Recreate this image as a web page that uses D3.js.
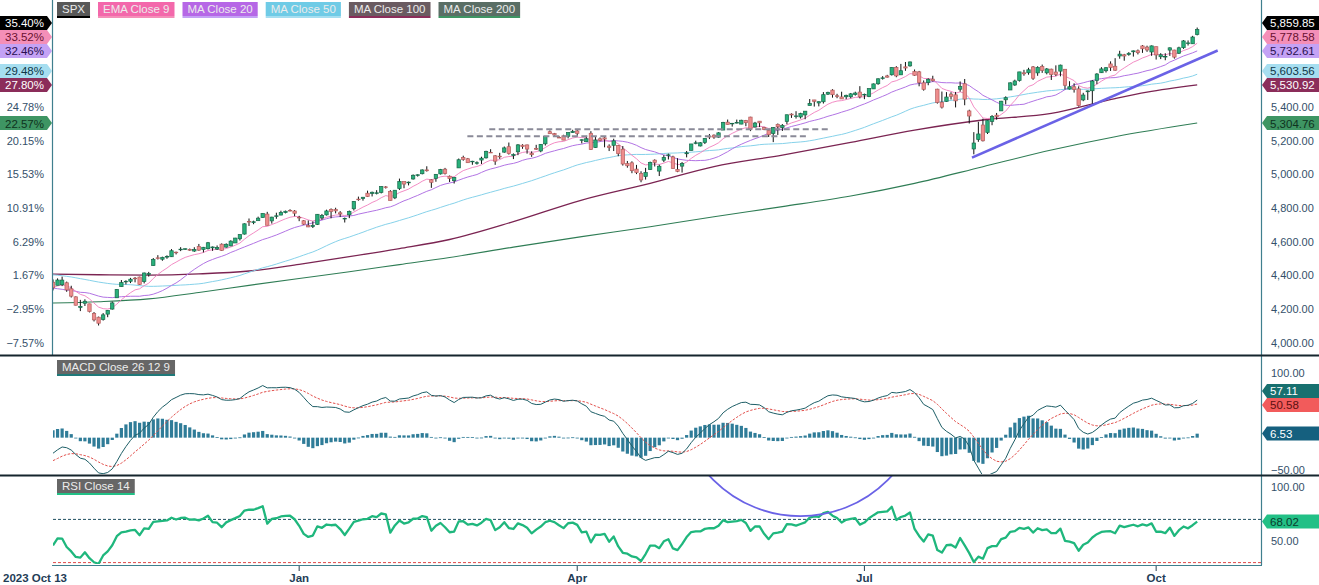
<!DOCTYPE html>
<html><head><meta charset="utf-8">
<script src="https://cdn.jsdelivr.net/npm/d3@7"></script>
<style>
html,body{margin:0;padding:0;background:#fff;overflow:hidden;}
svg{display:block;font-family:"Liberation Sans",Arial,sans-serif;}
</style></head><body>
<svg id="c" width="1319" height="585"></svg>
<script>
// ---------------- DATA ----------------
// closes before the first visible bar (indicator warm-up only, not drawn)
const warmupCloses = [4534.87,4536.34,4554.64,4567.46,4566.75,4537.41,4582.23,4588.96,4576.73,4513.39,4501.89,4478.03,4518.44,4499.38,4467.71,4468.83,4464.05,4489.72,4437.86,4404.33,4370.36,4369.71,4399.77,4387.55,4436.01,4376.31,4405.71,4433.31,4497.63,4514.87,4507.66,4515.77,4496.83,4465.48,4451.14,4457.49,4487.46,4461.90,4467.44,4505.10,4450.32,4453.53,4443.95,4402.20,4330.00,4320.06,4337.44,4273.53,4274.51,4299.70,4288.05,4288.39,4229.45,4263.75,4258.19,4308.50,4335.66,4358.24,4376.95,4349.61];

// date, open, high, low, close
const ohlc = [
["2023-10-13",4360.49,4377.10,4311.97,4327.78],["2023-10-16",4342.37,4383.33,4342.37,4373.63],["2023-10-17",4345.23,4393.57,4337.54,4373.20],["2023-10-18",4357.35,4364.20,4303.84,4314.60],["2023-10-19",4321.36,4339.54,4269.69,4278.00],["2023-10-20",4273.85,4276.56,4223.03,4224.16],["2023-10-23",4210.40,4255.84,4189.22,4217.04],["2023-10-24",4235.79,4259.38,4219.43,4247.68],["2023-10-25",4232.42,4232.42,4181.42,4186.77],["2023-10-26",4175.99,4183.60,4127.90,4137.23],["2023-10-27",4152.93,4156.70,4103.78,4117.37],["2023-10-30",4139.39,4177.47,4132.94,4166.82],["2023-10-31",4171.33,4195.55,4153.12,4193.80],
["2023-11-01",4201.27,4245.64,4197.74,4237.86],["2023-11-02",4268.26,4319.72,4268.26,4317.78],["2023-11-03",4334.23,4373.62,4334.23,4358.34],["2023-11-06",4364.27,4372.21,4347.53,4365.98],["2023-11-07",4366.21,4386.26,4355.41,4378.38],["2023-11-08",4384.37,4391.20,4359.76,4382.78],["2023-11-09",4391.41,4393.40,4343.94,4347.35],["2023-11-10",4364.15,4418.03,4353.34,4415.24],["2023-11-13",4406.66,4421.76,4393.82,4411.55],["2023-11-14",4458.97,4504.12,4458.97,4495.70],["2023-11-15",4505.30,4521.17,4495.31,4502.88],["2023-11-16",4497.08,4511.99,4487.83,4508.24],["2023-11-17",4509.55,4520.12,4499.66,4514.02],["2023-11-20",4511.70,4557.11,4510.36,4547.38],["2023-11-21",4538.77,4542.14,4525.51,4538.19],["2023-11-22",4553.04,4568.43,4545.05,4556.62],["2023-11-24",4555.84,4560.31,4552.80,4559.34],["2023-11-27",4554.86,4560.52,4546.32,4550.43],["2023-11-28",4545.55,4568.14,4540.51,4554.89],["2023-11-29",4571.84,4587.64,4547.15,4550.58],["2023-11-30",4554.87,4569.89,4537.24,4567.80],
["2023-12-01",4559.43,4599.39,4554.71,4594.63],["2023-12-04",4564.37,4572.37,4546.72,4569.78],["2023-12-05",4557.25,4578.56,4551.68,4567.18],["2023-12-06",4586.23,4590.74,4546.50,4549.34],["2023-12-07",4568.84,4590.92,4565.22,4585.59],["2023-12-08",4576.20,4609.23,4574.06,4604.37],["2023-12-11",4593.39,4623.71,4593.39,4622.44],["2023-12-12",4618.30,4643.93,4608.09,4643.70],["2023-12-13",4646.20,4709.69,4643.23,4707.09],["2023-12-14",4721.04,4738.57,4694.34,4719.55],["2023-12-15",4714.23,4725.53,4704.69,4719.19],["2023-12-18",4725.58,4749.52,4725.58,4740.56],["2023-12-19",4743.72,4768.69,4743.72,4768.37],["2023-12-20",4764.73,4778.01,4697.82,4698.35],["2023-12-21",4724.29,4748.71,4708.35,4746.75],["2023-12-22",4753.92,4772.94,4736.77,4754.63],["2023-12-26",4758.86,4784.72,4758.45,4774.75],["2023-12-27",4773.45,4785.39,4768.90,4781.58],["2023-12-28",4786.44,4793.30,4780.98,4783.35],["2023-12-29",4782.88,4788.43,4751.99,4769.83],
["2024-01-02",4745.20,4754.33,4722.67,4742.83],["2024-01-03",4725.07,4729.29,4699.71,4704.81],["2024-01-04",4697.42,4726.78,4687.53,4688.68],["2024-01-05",4690.57,4721.49,4682.11,4697.24],["2024-01-08",4703.70,4764.54,4699.82,4763.54],["2024-01-09",4741.93,4765.47,4730.35,4756.50],["2024-01-10",4759.94,4790.80,4756.20,4783.45],["2024-01-11",4792.13,4798.50,4739.58,4780.24],["2024-01-12",4791.18,4802.40,4768.98,4783.83],["2024-01-16",4772.35,4782.34,4747.12,4765.98],["2024-01-17",4739.13,4744.23,4714.82,4739.21],["2024-01-18",4760.10,4785.79,4740.57,4780.94],["2024-01-19",4796.28,4842.07,4785.87,4839.81],["2024-01-22",4853.42,4868.41,4844.05,4850.43],["2024-01-23",4856.80,4866.48,4844.37,4864.60],["2024-01-24",4888.56,4903.68,4865.94,4868.55],["2024-01-25",4886.66,4898.15,4869.34,4894.16],["2024-01-26",4888.91,4906.69,4881.47,4890.97],["2024-01-29",4892.95,4929.31,4887.40,4927.93],["2024-01-30",4925.89,4931.09,4916.27,4924.97],["2024-01-31",4899.19,4906.75,4845.15,4845.65],
["2024-02-01",4861.11,4906.97,4853.52,4906.19],["2024-02-02",4916.06,4975.29,4907.99,4958.61],["2024-02-05",4957.19,4957.19,4918.09,4942.81],["2024-02-06",4950.16,4957.77,4934.88,4954.23],["2024-02-07",4973.05,4999.89,4969.05,4995.06],["2024-02-08",4995.16,5000.40,4987.09,4997.91],["2024-02-09",5004.17,5030.06,5000.34,5026.61],["2024-02-12",5026.83,5048.39,5016.83,5021.84],["2024-02-13",4967.94,4971.30,4920.31,4953.17],["2024-02-14",4976.44,5002.52,4956.45,5000.62],["2024-02-15",5003.14,5032.72,4999.44,5029.73],["2024-02-16",5031.13,5038.70,4999.52,5005.57],["2024-02-20",4989.32,4993.71,4955.02,4975.51],["2024-02-21",4963.03,4983.21,4946.00,4981.80],["2024-02-22",5038.83,5094.39,5038.83,5087.03],["2024-02-23",5100.92,5111.06,5081.46,5088.80],["2024-02-26",5093.00,5097.66,5068.91,5069.53],["2024-02-27",5074.60,5080.69,5057.29,5078.18],["2024-02-28",5067.20,5077.37,5058.35,5069.76],["2024-02-29",5085.36,5104.99,5061.89,5096.27],
["2024-03-01",5098.51,5140.33,5094.16,5137.08],["2024-03-04",5130.99,5149.67,5127.18,5130.95],["2024-03-05",5110.52,5114.54,5056.82,5078.65],["2024-03-06",5108.03,5127.97,5092.22,5104.76],["2024-03-07",5132.38,5165.62,5128.21,5157.36],["2024-03-08",5164.46,5189.26,5117.50,5123.69],["2024-03-11",5111.96,5124.66,5091.14,5117.94],["2024-03-12",5134.30,5179.87,5114.48,5175.27],["2024-03-13",5173.49,5179.14,5151.88,5165.31],["2024-03-14",5175.14,5176.85,5123.30,5150.48],["2024-03-15",5123.31,5136.86,5104.35,5117.09],["2024-03-18",5154.77,5175.60,5145.47,5149.42],["2024-03-19",5139.09,5180.31,5131.59,5178.51],["2024-03-20",5181.69,5226.19,5171.55,5224.62],["2024-03-21",5253.43,5261.10,5240.66,5241.53],["2024-03-22",5242.48,5246.09,5229.87,5234.18],["2024-03-25",5219.52,5229.09,5216.09,5218.19],["2024-03-26",5228.85,5235.16,5203.42,5203.58],["2024-03-27",5226.31,5249.26,5213.92,5248.49],["2024-03-28",5248.03,5264.85,5245.82,5254.35],
["2024-04-01",5257.97,5263.95,5229.20,5243.77],["2024-04-02",5204.29,5208.34,5184.05,5205.81],["2024-04-03",5194.37,5228.75,5194.37,5211.49],["2024-04-04",5244.05,5256.59,5146.06,5147.21],["2024-04-05",5158.95,5222.18,5157.21,5204.34],["2024-04-08",5211.37,5219.57,5197.35,5202.39],["2024-04-09",5217.03,5224.81,5160.78,5209.91],["2024-04-10",5167.88,5178.43,5138.70,5160.64],["2024-04-11",5172.95,5211.78,5138.77,5199.06],["2024-04-12",5171.51,5175.03,5107.94,5123.41],["2024-04-15",5149.67,5168.43,5052.47,5061.82],["2024-04-16",5064.59,5079.84,5039.83,5051.41],["2024-04-17",5068.97,5077.96,5007.25,5022.21],["2024-04-18",5031.52,5056.66,5001.89,5011.12],["2024-04-19",5005.44,5019.02,4953.56,4967.23],["2024-04-22",4987.33,5038.84,4969.40,5010.60],["2024-04-23",5028.85,5076.12,5027.96,5070.55],["2024-04-24",5084.65,5089.48,5047.02,5071.63],["2024-04-25",5019.88,5057.75,4990.58,5048.42],["2024-04-26",5084.65,5114.62,5073.14,5099.96],["2024-04-29",5114.13,5123.49,5088.65,5116.17],["2024-04-30",5103.78,5110.83,5035.31,5035.69],
["2024-05-01",5029.03,5096.12,5013.45,5018.39],["2024-05-02",5049.32,5073.21,5011.05,5064.20],["2024-05-03",5122.78,5139.12,5101.22,5127.79],["2024-05-06",5142.42,5181.00,5142.42,5180.74],["2024-05-07",5187.20,5200.23,5178.96,5187.70],["2024-05-08",5168.98,5191.95,5165.86,5187.67],["2024-05-09",5189.31,5215.30,5180.41,5214.08],["2024-05-10",5225.49,5239.66,5209.68,5222.68],["2024-05-13",5233.08,5237.26,5211.16,5221.42],["2024-05-14",5221.10,5250.37,5217.98,5246.68],["2024-05-15",5263.26,5311.76,5263.26,5308.15],["2024-05-16",5310.07,5325.49,5296.19,5297.10],["2024-05-17",5303.10,5305.45,5283.59,5303.27],["2024-05-20",5305.35,5325.32,5302.40,5308.13],["2024-05-21",5298.69,5324.32,5297.87,5321.41],["2024-05-22",5319.28,5323.18,5286.01,5307.01],["2024-05-23",5340.26,5341.88,5256.93,5267.84],["2024-05-24",5281.45,5311.65,5278.39,5304.72],["2024-05-28",5315.91,5315.91,5280.89,5306.04],["2024-05-29",5278.73,5282.27,5262.70,5266.95],["2024-05-30",5259.77,5260.21,5222.10,5235.48],["2024-05-31",5243.21,5280.33,5191.68,5277.51],
["2024-06-03",5297.15,5302.11,5234.32,5283.40],["2024-06-04",5278.24,5298.80,5257.63,5291.34],["2024-06-05",5314.48,5354.16,5297.64,5354.03],["2024-06-06",5357.80,5362.35,5335.36,5352.96],["2024-06-07",5343.81,5375.08,5331.33,5346.99],["2024-06-10",5341.22,5365.79,5331.52,5360.79],["2024-06-11",5353.00,5375.95,5327.25,5375.32],["2024-06-12",5409.13,5447.25,5409.13,5421.03],["2024-06-13",5441.93,5441.93,5402.51,5433.74],["2024-06-14",5424.08,5432.39,5403.75,5431.60],["2024-06-17",5431.11,5488.50,5420.40,5473.23],["2024-06-18",5476.15,5490.38,5471.32,5487.03],["2024-06-20",5499.99,5505.53,5455.56,5473.17],["2024-06-21",5466.77,5478.31,5452.03,5464.62],["2024-06-24",5459.58,5490.66,5447.59,5447.87],["2024-06-25",5460.73,5472.88,5446.56,5469.30],["2024-06-26",5460.71,5483.14,5451.87,5477.90],["2024-06-27",5473.59,5490.81,5467.54,5482.87],["2024-06-28",5488.48,5523.64,5451.12,5460.48],
["2024-07-01",5471.08,5479.55,5446.53,5475.09],["2024-07-02",5461.84,5509.69,5458.43,5509.01],["2024-07-03",5507.44,5539.27,5507.42,5537.02],["2024-07-05",5537.91,5570.33,5531.63,5567.19],["2024-07-08",5572.75,5583.11,5562.51,5572.85],["2024-07-09",5584.24,5590.75,5574.57,5576.98],["2024-07-10",5591.26,5635.39,5586.44,5633.91],["2024-07-11",5635.21,5642.45,5576.53,5584.54],["2024-07-12",5590.76,5655.56,5590.44,5615.35],["2024-07-15",5638.16,5666.94,5614.75,5631.22],["2024-07-16",5644.09,5669.67,5639.02,5667.20],["2024-07-17",5610.23,5622.49,5584.81,5588.27],["2024-07-18",5608.56,5614.05,5522.81,5544.59],["2024-07-19",5543.37,5557.50,5497.04,5505.00],["2024-07-22",5544.54,5570.36,5529.04,5564.41],["2024-07-23",5565.30,5585.34,5550.90,5555.74],["2024-07-24",5505.84,5508.04,5419.98,5427.13],["2024-07-25",5428.70,5491.59,5390.95,5399.22],["2024-07-26",5433.67,5488.32,5430.70,5459.10],["2024-07-29",5476.55,5487.74,5444.44,5463.54],["2024-07-30",5472.23,5489.19,5397.54,5436.44],["2024-07-31",5505.59,5551.51,5491.11,5522.30],
["2024-08-01",5537.84,5566.16,5410.42,5446.68],["2024-08-02",5376.63,5383.89,5302.03,5346.56],["2024-08-05",5151.14,5250.89,5119.26,5186.33],["2024-08-06",5206.42,5312.34,5193.56,5240.03],["2024-08-07",5293.13,5330.64,5195.54,5199.50],["2024-08-08",5248.99,5321.62,5239.65,5319.31],["2024-08-09",5314.36,5351.95,5291.90,5344.16],["2024-08-12",5351.43,5364.66,5325.23,5344.39],["2024-08-13",5376.98,5436.50,5376.98,5434.43],["2024-08-14",5442.79,5463.22,5415.74,5455.21],["2024-08-15",5501.00,5546.23,5501.00,5543.22],["2024-08-16",5530.50,5561.98,5525.10,5554.25],["2024-08-19",5557.23,5608.30,5550.74,5608.25],["2024-08-20",5602.88,5620.51,5585.50,5597.12],["2024-08-21",5603.09,5632.68,5591.57,5620.85],["2024-08-22",5637.77,5643.22,5560.95,5570.64],["2024-08-23",5602.34,5641.82,5585.16,5634.61],["2024-08-26",5639.66,5651.62,5602.34,5616.84],["2024-08-27",5602.89,5631.18,5593.48,5625.80],["2024-08-28",5624.51,5627.03,5560.20,5592.18],["2024-08-29",5607.30,5646.95,5583.71,5591.96],["2024-08-30",5612.74,5651.37,5581.79,5648.40],
["2024-09-03",5623.89,5623.89,5504.33,5528.93],["2024-09-04",5506.68,5552.99,5503.66,5520.07],["2024-09-05",5520.08,5540.35,5485.51,5503.41],["2024-09-06",5507.33,5522.47,5402.62,5408.42],["2024-09-09",5442.07,5484.20,5434.49,5471.05],["2024-09-10",5490.51,5497.91,5441.72,5495.52],["2024-09-11",5496.42,5560.41,5406.96,5554.13],["2024-09-12",5557.48,5600.71,5535.50,5595.76],["2024-09-13",5603.34,5636.27,5601.65,5626.02],["2024-09-16",5615.21,5636.05,5604.53,5633.09],["2024-09-17",5655.51,5670.81,5614.05,5634.58],["2024-09-18",5641.68,5689.75,5615.08,5618.26],["2024-09-19",5702.63,5733.57,5686.42,5713.64],["2024-09-20",5709.75,5715.14,5674.49,5702.55],["2024-09-23",5711.90,5725.36,5704.22,5718.57],["2024-09-24",5727.70,5735.32,5698.99,5732.93],["2024-09-25",5733.65,5741.03,5712.06,5722.26],["2024-09-26",5762.22,5767.37,5721.01,5745.37],["2024-09-27",5755.36,5763.78,5727.34,5738.17],["2024-09-30",5726.52,5765.14,5703.53,5762.48],
["2024-10-01",5757.73,5757.73,5681.28,5708.75],["2024-10-02",5698.19,5719.14,5684.19,5709.54],["2024-10-03",5698.93,5718.78,5677.36,5699.94],["2024-10-04",5737.63,5753.38,5702.83,5751.07],["2024-10-07",5737.80,5739.34,5686.85,5695.94],["2024-10-08",5719.14,5757.60,5714.56,5751.13],["2024-10-09",5751.80,5796.80,5745.02,5792.04],["2024-10-10",5778.36,5795.03,5764.76,5780.05],["2024-10-11",5775.09,5822.13,5775.09,5815.03],["2024-10-14",5829.81,5871.41,5824.83,5859.85]
];

// long moving averages: [bar index, value]
const ma100Pts = [[0,4409],[10,4405],[21,4403],[32,4410],[43,4427],[54,4467],[65,4512],[76,4560],[87,4614],[101,4720],[116,4848],[131,4947],[145,5046],[160,5115],[175,5190],[189,5263],[204,5323],[219,5362],[233,5450],[240,5488],[251,5531]];
const ma200Pts = [[0,4237],[10,4245],[21,4262],[32,4300],[43,4342],[54,4383],[65,4423],[76,4465],[87,4507],[101,4569],[116,4631],[131,4690],[145,4749],[160,4809],[175,4872],[189,4947],[204,5046],[219,5145],[233,5224],[251,5305]];

// last-value tags as printed on the chart
const priceTagNames  = ["SPX","EMA Close 9","MA Close 20","MA Close 50","MA Close 100","MA Close 200"];
const priceTagValues = [5859.85,5778.58,5732.61,5603.56,5530.92,5304.76];
const macdTagValues  = [57.11,50.58,6.53];   // MACD, signal, histogram
const rsiTagValue    = 68.02;

const priceTicks = [4000,4200,4400,4600,4800,5000,5200,5400];
const macdTicks  = [100,-50];
const rsiTicks   = [100,50];
const rsiLevels  = [70,30];
const xTickDates  = ["2023-10-13","2024-01-02","2024-04-01","2024-07-01","2024-10-01"];
const xTickLabels = ["2023 Oct 13","Jan","Apr","Jul","Oct"];

// drawings: [bar index, price]
const trendLine  = [[201.6,5100],[255.5,5735]];
const levelLines = [[[95.7,5268],[170,5268]],[[90.9,5226],[165.2,5226]]];
const rsiArc = {center:[164,187], bottomValue:73};

// ---------------- STYLE ----------------
const seriesColors = ["#000000","#f48fb8","#c4a2f5","#a6def0","#8b2d5a","#3e9563"];
const lineColors   = ["#000","#f17fbd","#b274e4","#86d2ea","#7b2452","#2f7d55"];
const legendBg     = ["#585858","#f368ab","#b667e6","#6fcbe6","#6a5b61","#5a6e65"];
const tagText      = ["#ffffff","#6a1030","#2a1050","#103848","#ffffff","#0f3320"];

// ---------------- INDICATORS ----------------
const closes = ohlc.map(d=>d[4]);
const all = warmupCloses.concat(closes);
const off = warmupCloses.length;
function emaArr(a,n){const k=2/(n+1);let e=a[0];return a.map((v,i)=>(e = i? v*k+e*(1-k) : v));}
function smaArr(a,n){return a.map((v,i)=> i<n-1 ? null : d3.mean(a.slice(i-n+1,i+1)));}
const ema9 = emaArr(all,9).slice(off);
const ma20 = smaArr(all,20).slice(off);
const ma50 = smaArr(all,50).slice(off);
const e12 = emaArr(all,12), e26 = emaArr(all,26);
const macdAll = e12.map((v,i)=>v-e26[i]);
const sigAll = emaArr(macdAll,9);
const macd = macdAll.slice(off), sig = sigAll.slice(off);
const hist = macd.map((v,i)=>v-sig[i]);
const rsiAll = [];
{ let ag=0, al=0; rsiAll.push(null);
  for(let i=1;i<all.length;i++){ const ch=all[i]-all[i-1], g=Math.max(ch,0), l=Math.max(-ch,0);
    if(i<=14){ag+=g/14; al+=l/14;} else {ag=(ag*13+g)/14; al=(al*13+l)/14;}
    rsiAll.push(i>=14 ? 100-100/(1+ag/al) : null); } }
const rsi = rsiAll.slice(off);

// ---------------- SCALES ----------------
const svg = d3.select("#c");
const X0=53, X1=1261;
const x = d3.scaleLinear().domain([0,265]).range([X0,X1]);
const y = d3.scaleLinear().domain([4000,5400]).range([343,107]);
const ym = d3.scaleLinear().domain([-50,100]).range([470,373]);
const yr = d3.scaleLinear().domain([50,100]).range([541,487]);
const base = closes[0];
const fmt = d3.format(",.2f"), f2 = d3.format(".2f");
const pct = v => f2((v/base-1)*100)+"%";

const defs = svg.append("defs");
function clip(id,yy,h){defs.append("clipPath").attr("id",id).append("rect").attr("x",X0).attr("y",yy).attr("width",X1-X0).attr("height",h);}
clip("cMain",0,354); clip("cMacd",356,118); clip("cRsi",476,88);

// ---------------- MAIN PANEL ----------------
const gMain = svg.append("g").attr("clip-path","url(#cMain)");
const lineGen = (yS)=>d3.line().defined(d=>d[1]!=null).x(d=>x(d[0])).y(d=>yS(d[1]));
const idxSeries = arr => arr.map((v,i)=>[i,v]);
gMain.append("path").datum(ma200Pts).attr("d",lineGen(y).curve(d3.curveMonotoneX)).attr("fill","none").attr("stroke",lineColors[5]).attr("stroke-width",1.1);
gMain.append("path").datum(ma100Pts).attr("d",lineGen(y).curve(d3.curveMonotoneX)).attr("fill","none").attr("stroke",lineColors[4]).attr("stroke-width",1.3);
gMain.append("path").datum(idxSeries(ma50)).attr("d",lineGen(y)).attr("fill","none").attr("stroke",lineColors[3]).attr("stroke-width",1);
gMain.append("path").datum(idxSeries(ma20)).attr("d",lineGen(y)).attr("fill","none").attr("stroke",lineColors[2]).attr("stroke-width",1);
gMain.append("path").datum(idxSeries(ema9)).attr("d",lineGen(y)).attr("fill","none").attr("stroke",lineColors[1]).attr("stroke-width",0.9);

const bw = 3.4;
const cg = gMain.append("g");
ohlc.forEach((d,i)=>{
  const [ , o,h,l,c] = d, up = c>=o, cx = x(i);
  cg.append("line").attr("x1",cx).attr("x2",cx).attr("y1",y(h)).attr("y2",y(l)).attr("stroke","#111").attr("stroke-width",1);
  const top = y(Math.max(o,c)), bot = y(Math.min(o,c));
  cg.append("rect").attr("x",cx-bw/2).attr("y",top).attr("width",bw).attr("height",Math.max(bot-top,0.6))
    .attr("fill",up?"#29b07b":"#ee8d8d").attr("stroke",up?"#17694a":"#b45e5e").attr("stroke-width",0.7);
});

levelLines.forEach(L=>{
  gMain.append("line").attr("x1",x(L[0][0])).attr("x2",x(L[1][0])).attr("y1",y(L[0][1])).attr("y2",y(L[1][1]))
    .attr("stroke","#8a8a98").attr("stroke-width",2).attr("stroke-dasharray","6,3.5");
});
gMain.append("line").attr("x1",x(trendLine[0][0])).attr("y1",y(trendLine[0][1])).attr("x2",x(trendLine[1][0])).attr("y2",y(trendLine[1][1]))
  .attr("stroke","#6a62e6").attr("stroke-width",2.6);

// ---------------- MACD PANEL ----------------
const gM = svg.append("g").attr("clip-path","url(#cMacd)");
const hb = 3.2;
hist.forEach((v,i)=>{
  gM.append("rect").attr("x",x(i)-hb/2).attr("width",hb).attr("y",Math.min(ym(v),ym(0))).attr("height",Math.max(Math.abs(ym(v)-ym(0)),0.8)).attr("fill","#2f7c98");
});
gM.append("path").datum(idxSeries(sig)).attr("d",lineGen(ym)).attr("fill","none").attr("stroke","#e2504c").attr("stroke-width",1).attr("stroke-dasharray","2.5,1.5");
gM.append("path").datum(idxSeries(macd)).attr("d",lineGen(ym)).attr("fill","none").attr("stroke","#1d5e66").attr("stroke-width",1);

// ---------------- RSI PANEL ----------------
const gR = svg.append("g").attr("clip-path","url(#cRsi)");
rsiLevels.forEach((lv,k)=>{
  gR.append("line").attr("x1",X0).attr("x2",X1).attr("y1",yr(lv)).attr("y2",yr(lv))
    .attr("stroke",k===0?"#1f4f60":"#e04848").attr("stroke-width",1).attr("stroke-dasharray","3,2");
});
gR.append("path").datum(idxSeries(rsi)).attr("d",lineGen(yr)).attr("fill","none").attr("stroke","#1fb77d").attr("stroke-width",2.3).attr("stroke-linejoin","round");
const arcR = yr(rsiArc.bottomValue)-yr(rsiArc.center[1]);
gR.append("circle").attr("cx",x(rsiArc.center[0])).attr("cy",yr(rsiArc.center[1])).attr("r",arcR)
  .attr("fill","none").attr("stroke","#6a62e6").attr("stroke-width",1.8);

// ---------------- FRAME ----------------
const frame = "#3f7f8e";
svg.append("line").attr("x1",52.5).attr("x2",52.5).attr("y1",0).attr("y2",355).attr("stroke",frame).attr("stroke-width",1.2);
svg.append("line").attr("x1",1261.5).attr("x2",1261.5).attr("y1",0).attr("y2",565).attr("stroke",frame).attr("stroke-width",1.2);
svg.append("line").attr("x1",52).attr("x2",1262).attr("y1",565.5).attr("y2",565.5).attr("stroke",frame).attr("stroke-width",1.2);
[355.5,475.5].forEach(yy=>svg.append("line").attr("x1",0).attr("x2",1319).attr("y1",yy).attr("y2",yy).attr("stroke","#15252d").attr("stroke-width",2));

// ---------------- AXES TEXT ----------------
const axisCol = "#34506a";
const txt = (xx,yy,t,anchor,col,size,weight)=>svg.append("text").attr("x",xx).attr("y",yy).attr("dy","0.35em")
  .attr("text-anchor",anchor||"start").attr("fill",col||axisCol).style("font-size",(size||11)+"px").style("font-weight",weight||"normal").text(t);

priceTicks.forEach(p=>{ txt(1271,y(p),fmt(p)); txt(44,y(p),pct(p),"end"); });
macdTicks.forEach(v=>txt(1271,ym(v),f2(v)));
rsiTicks.forEach(v=>txt(1271,yr(v),f2(v)));

// tags
function rTag(yy,t,bg,fg){
  svg.append("path").attr("d",`M1262,${yy} L1267,${yy-7} L1319,${yy-7} L1319,${yy+7} L1267,${yy+7} Z`).attr("fill",bg);
  txt(1270,yy+0.5,t,"start",fg,11.5);
}
function lTag(yy,t,bg,fg){
  svg.append("path").attr("d",`M0,${yy-7} L47,${yy-7} L52,${yy} L47,${yy+7} L0,${yy+7} Z`).attr("fill",bg);
  txt(44,yy+0.5,t,"end",fg,11.5);
}
function stack(ys){ // push labels upward so they do not overlap
  const order = ys.map((v,i)=>i).sort((a,b)=>ys[b]-ys[a]);
  const out = ys.slice(); let prev = Infinity;
  order.forEach(i=>{ out[i] = Math.min(ys[i], prev-14); prev = out[i]; });
  return out;
}
const pY = stack(priceTagValues.map(v=>y(v)));
// cover plain ticks hidden behind tags
priceTagValues.forEach((v,i)=>{
  rTag(pY[i],fmt(v),seriesColors[i],tagText[i]);
  lTag(pY[i],pct(v),seriesColors[i],tagText[i]);
});
const mY = stack(macdTagValues.map(v=>ym(v)));
const macdTagBg = ["#17706f","#f25b5b","#15607f"], macdTagFg = ["#ffffff","#5a1010","#ffffff"];
macdTagValues.forEach((v,i)=>rTag(mY[i],f2(v),macdTagBg[i],macdTagFg[i]));
rTag(yr(rsiTagValue),f2(rsiTagValue),"#22c086","#0b3b2b");

// x axis
const dates = ohlc.map(d=>d[0]);
xTickDates.forEach((dt,k)=>{
  const i = dates.indexOf(dt), xx = x(i);
  if(k===0){ txt(3,578,xTickLabels[k],"start","#1f3d57",11.5,"bold"); return; }
  svg.append("line").attr("x1",xx).attr("x2",xx).attr("y1",566).attr("y2",571).attr("stroke","#2a3f50").attr("stroke-width",1);
  txt(xx,578,xTickLabels[k],"middle","#1f3d57",11.5,"bold");
});

// ---------------- LEGENDS ----------------
function box(xx,yy,t,bg,ul){
  const g = svg.append("g");
  const r = g.append("rect").attr("x",xx).attr("y",yy).attr("height",14).attr("fill",bg);
  const tt = g.append("text").attr("x",xx+5).attr("y",yy+7).attr("dy","0.36em").attr("fill","#ececec").style("font-size","11.5px").text(t);
  const w = tt.node().getComputedTextLength()+10;
  r.attr("width",w);
  g.append("rect").attr("x",xx).attr("y",yy+14).attr("width",w).attr("height",2).attr("fill",ul);
  return w;
}
let lx = 57;
priceTagNames.forEach((t,i)=>{ lx += box(lx,2,t,legendBg[i],seriesColors[i]) + 8; });
box(57,360,"MACD Close 26 12 9","#666666","#1f7a7a");
box(57,479,"RSI Close 14","#666666","#22c086");
</script>
</body></html>
